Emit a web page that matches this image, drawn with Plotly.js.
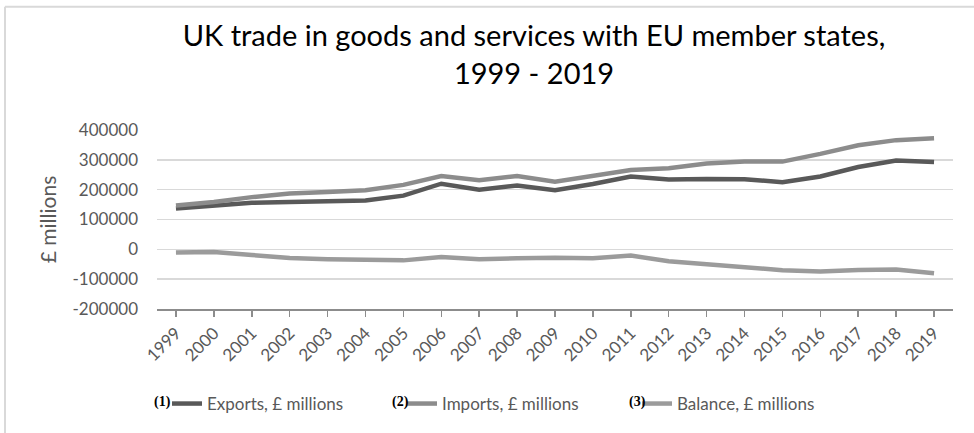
<!DOCTYPE html>
<html>
<head>
<meta charset="utf-8">
<script src="https://cdn.plot.ly/plotly-3.0.1.min.js"></script>
<style>html,body{margin:0;padding:0;background:#fff;}#chart{width:974px;height:433px;}</style>
</head>
<body>
<div id="chart"></div>
<script>
const years = ["1999","2000","2001","2002","2003","2004","2005","2006","2007","2008","2009","2010","2011","2012","2013","2014","2015","2016","2017","2018","2019"];
const exportsVals = [137000,148000,156000,159000,161000,164000,180000,220000,200000,214000,198000,219000,244000,234000,236000,235000,225000,244000,276000,298000,293000];
const importsVals = [147000,159000,175000,187000,192000,198000,216000,246000,232000,246000,227000,248000,266000,272000,288000,294000,294000,320000,349000,366000,372000];
const balanceVals = [-11000,-9000,-19000,-29000,-33000,-36000,-37000,-26000,-33000,-30000,-28000,-30000,-21000,-40000,-51000,-60000,-70000,-74000,-69000,-68000,-80000];
const seriesNames = ["Exports, £ millions","Imports, £ millions","Balance, £ millions"];
const seriesTags = ["(1)","(2)","(3)"];
const yTicks = [-200000,-100000,0,100000,200000,300000,400000];

const W = 974, H = 433;
const L = 157, R = 953, T = 130, B = 310;
const px2x = p => (p - L) / (R - L);
const px2y = p => (B - p) / (B - T);

const font = "Lato, 'Open Sans', sans-serif";
const colors = ["#595959", "#8c8c8c", "#9b9b9b"];
const vals = [exportsVals, importsVals, balanceVals];

const traces = vals.map((v, i) => ({
  type: "scatter", mode: "lines", x: years, y: v, name: seriesNames[i],
  line: {color: colors[i], width: 4.5}, hoverinfo: "skip"
}));

const last = years.length - 1;
const endShift = [-9, 1, 2];
const annotations = vals.map((v, i) => ({
  x: years[last], y: v[last], xref: "x", yref: "y", xanchor: "left", yanchor: "middle",
  xshift: 2, yshift: endShift[i], text: "<b>" + seriesTags[i] + "</b>", showarrow: false,
  font: {family: "'Liberation Serif', 'Times New Roman', serif", size: 15, color: "#000"}
}));
const legTagX = [152, 390, 627];
legTagX.forEach((p, i) => annotations.push({
  x: px2x(p), y: px2y(404), xref: "paper", yref: "paper", xanchor: "left", yanchor: "middle",
  text: "<b>" + seriesTags[i] + "</b>", showarrow: false,
  font: {family: "'Liberation Serif', 'Times New Roman', serif", size: 14, color: "#000"}
}));

const layout = {
  width: W, height: H,
  margin: {l: L, r: W - R, t: T, b: H - B, pad: 0},
  paper_bgcolor: "#fff", plot_bgcolor: "#fff",
  showlegend: true,
  title: {
    text: "UK trade in goods and services with EU member states,<br>1999 - 2019",
    font: {family: font, size: 29, color: "#000"},
    x: 534 / W, xanchor: "center", xref: "container",
    y: 1 - 46 / H, yanchor: "middle", yref: "container"
  },
  xaxis: {
    type: "category", range: [-0.5, years.length - 0.5],
    tickangle: -45, tickfont: {family: font, size: 17, color: "#595959"},
    ticks: "outside", ticklen: 6, tickwidth: 1.5, tickcolor: "#8c8c8c",
    showline: true, linecolor: "#8c8c8c", linewidth: 1.5,
    showgrid: false, zeroline: false, fixedrange: true
  },
  yaxis: {
    range: [-200000, 400000], tickvals: yTicks, ticktext: yTicks.map(String),
    tickfont: {family: font, size: 17, color: "#595959"},
    showgrid: true, gridcolor: "#d9d9d9", gridwidth: 1.5,
    zeroline: false, ticks: "", ticklabelstandoff: 18,
    title: {text: "£ millions", font: {family: font, size: 21, color: "#595959"}, standoff: 10},
    fixedrange: true
  },
  legend: {
    orientation: "h", x: px2x(167), xanchor: "left", y: px2y(404), yanchor: "middle",
    font: {family: font, size: 17, color: "#595959"},
    entrywidth: 190, entrywidthmode: "pixels", traceorder: "normal",
    bgcolor: "rgba(0,0,0,0)"
  },
  annotations: annotations,
  shapes: [
    {type: "line", xref: "paper", yref: "paper", x0: px2x(5), x1: px2x(W + 5), y0: px2y(6), y1: px2y(6), line: {color: "#d9d9d9", width: 2}},
    {type: "line", xref: "paper", yref: "paper", x0: px2x(5), x1: px2x(5), y0: px2y(6), y1: px2y(H + 5), line: {color: "#d9d9d9", width: 2}}
  ]
};

Plotly.newPlot("chart", traces, layout, {displayModeBar: false, staticPlot: true});
</script>
</body>
</html>
